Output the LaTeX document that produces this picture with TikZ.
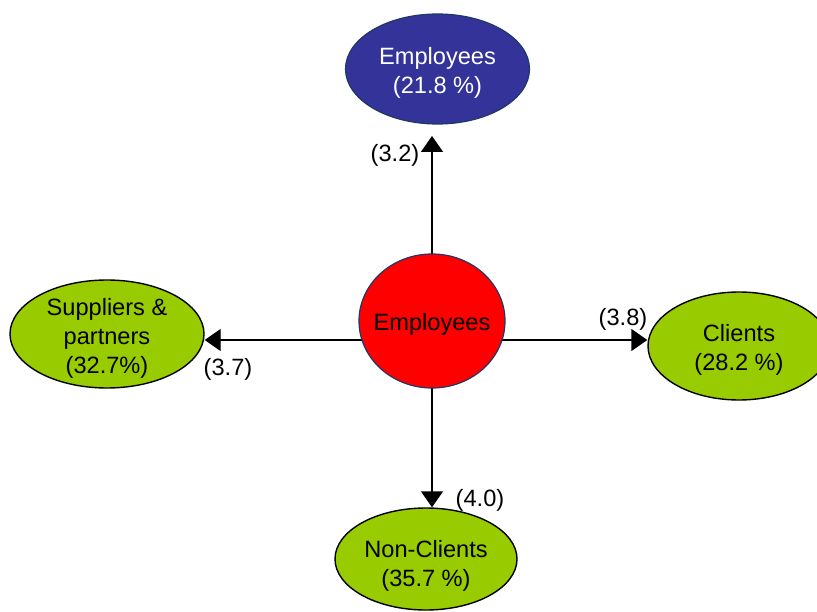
\documentclass[tikz,border=0pt]{standalone}
\usepackage{fontspec}
\setmainfont{Liberation Sans}
\usetikzlibrary{arrows.meta,backgrounds,shapes.geometric}
\definecolor{navyfill}{RGB}{51,51,153}
\definecolor{navyline}{RGB}{31,56,100}
\definecolor{leaf}{RGB}{153,204,0}
\begin{document}
\begin{tikzpicture}[x=1pt,y=-1pt,
  every node/.style={font=\fontsize{23.6}{29}\selectfont, align=center, inner sep=0pt},
  oval/.style={ellipse, draw=black, line width=1.4pt, fill=leaf},
  blueoval/.style={ellipse, draw=navyline, line width=1.2pt, fill=navyfill},
  redoval/.style={ellipse, draw=navyline, line width=1.2pt, fill=red},
  link/.style={line width=1.4pt, -{Triangle[length=16pt,width=22pt]}},
  lbl/.style={text=black}]
\useasboundingbox (0,0) rectangle (817,612);
\clip (0,0) rectangle (817,612);
\node[blueoval, minimum width=184pt, minimum height=110pt] (top) at (437.5,69) {};
\node[redoval, minimum width=146pt, minimum height=134pt] (hubnode) at (432,321) {};
\node[oval, minimum width=194pt, minimum height=108pt] (sup) at (107,334) {};
\node[oval, minimum width=182pt, minimum height=108pt] (cli) at (739,346) {};
\node[oval, minimum width=182pt, minimum height=102pt] (non) at (426,559) {};
\node[text=white] (topt) at ([yshift=-4pt]top.center) {Employees\\(21.8 \%)};
\node (hubt) at ([yshift=-3pt]hubnode.center) {Employees};
\node (supt) at ([yshift=-4pt]sup.center) {Suppliers \&\\partners\\(32.7\%)};
\node (clit) at ([yshift=-4pt]cli.center) {Clients\\(28.2 \%)};
\node (nont) at ([yshift=-7pt]non.center) {Non-Clients\\(35.7 \%)};
\coordinate (hub) at (432,340);
\coordinate (uptip) at (432,136);
\begin{pgfonlayer}{background}
\draw[link] (hub) -- (uptip);
\draw[link] (hub) -- (hub -| sup.east);
\draw[link] (hub) -- (hub -| cli.west);
\draw[link] (hub) -- (hub |- non.north);
\end{pgfonlayer}
\node[lbl] (l32) at (395,155) {(3.2)};
\node[lbl] (l37) at (228,369) {(3.7)};
\node[lbl] (l38) at (623,319) {(3.8)};
\node[lbl] (l40) at (480,500) {(4.0)};
\end{tikzpicture}
\end{document}
